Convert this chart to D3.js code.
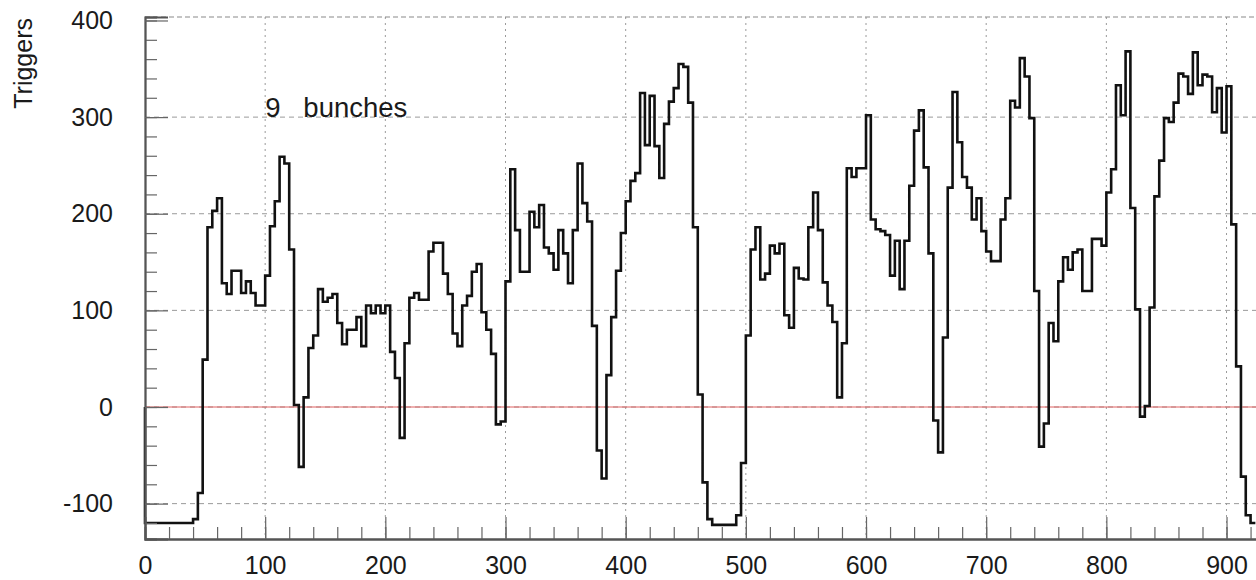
<!DOCTYPE html>
<html><head><meta charset="utf-8">
<script src="https://cdn.jsdelivr.net/npm/d3@7"></script>
<style>html,body{margin:0;padding:0;background:#fff;overflow:hidden}</style>
</head><body>
<svg id="chart" width="1256" height="580"></svg>
<script>
// ---- data: histogram of triggers, bins of 4 units starting at 0 ----
const binWidth = 4;
const bins000 = [-120,-120,-120,-120,-120,-120,-120,-120,-120,-120,-116,-89,49,186,203,216,128,117,141,141,118,130,118,105,105];
const bins100 = [136,187,213,259,252,163,2,-62,10,61,74,122,109,113,117,87,65,80,80,93,63,105,97,105,97];
const bins200 = [105,57,30,-32,66,113,118,111,111,161,170,170,138,117,76,63,105,115,140,148,98,80,55,-18,-15];
const bins300 = [130,246,183,140,140,202,186,209,165,159,142,183,159,128,183,252,211,192,84,-45,-74,33,93,141,180];
const bins400 = [213,234,242,325,271,322,270,237,293,316,330,355,352,315,186,13,-78,-116,-122,-122,-122,-122,-122,-112,-58];
const bins500 = [74,163,186,132,138,167,159,169,95,82,144,133,132,186,222,183,129,105,88,10,66,247,238,247,247];
const bins600 = [302,194,184,182,178,136,172,122,172,229,286,307,248,159,-14,-47,72,227,326,274,238,227,194,216,182];
const bins700 = [161,151,151,194,216,317,310,361,342,299,120,-41,-17,87,68,130,155,142,160,163,120,120,174,174,167];
const bins800 = [222,246,333,302,368,206,101,-10,1,103,218,255,299,295,315,345,342,324,367,333,344,342,305,330,284];
const bins900 = [332,189,42,-72,-112,-120];
const counts = [].concat(bins000,bins100,bins200,bins300,bins400,bins500,bins600,bins700,bins800,bins900);

const xTickValues = [0,100,200,300,400,500,600,700,800,900];
const yTickValues = [-100,0,100,200,300,400];
const yTitle = "Triggers";
const annotation = "9   bunches";

// ---- layout ----
const svg = d3.select("#chart");
const font = "'Liberation Sans', Arial, Helvetica, sans-serif";
const x = d3.scaleLinear().domain([0, 930]).range([145, 145 + 930 * 1.2017]);
const y = d3.scaleLinear().domain([-136.6, 403.6]).range([539, 17]);
const x0 = x.range()[0], x1 = x.range()[1];
const yTop = y.range()[1], yBot = y.range()[0];
const plain = d => String(d);

// grid lines
const gGrid = svg.append("g");
gGrid.selectAll("line.hg").data(yTickValues.filter(v => v < 400)).enter().append("line")
  .attr("x1", x0).attr("x2", x1).attr("y1", d => y(d)).attr("y2", d => y(d))
  .attr("stroke", "#9a9a9a").attr("stroke-width", 1).attr("stroke-dasharray", "5,4");
gGrid.selectAll("line.vg").data(xTickValues.filter(v => v > 0)).enter().append("line")
  .attr("x1", d => x(d)).attr("x2", d => x(d)).attr("y1", yTop).attr("y2", yBot)
  .attr("stroke", "#9a9a9a").attr("stroke-width", 1).attr("stroke-dasharray", "2,4");
// top frame (dashed)
svg.append("line").attr("x1", x0).attr("x2", x1).attr("y1", yTop).attr("y2", yTop)
  .attr("stroke", "#8a8a8a").attr("stroke-width", 1.2).attr("stroke-dasharray", "5,3");
// zero line
svg.append("line").attr("x1", x0).attr("x2", x1).attr("y1", y(0)).attr("y2", y(0))
  .attr("stroke", "#e06060").attr("stroke-width", 1);

// histogram
const pts = [[0, 0]].concat(counts.map((c, i) => [i * binWidth, c]));
pts.push([counts.length * binWidth, counts[counts.length - 1]]);
const line = d3.line().x(d => x(d[0])).y(d => y(d[1])).curve(d3.curveStepAfter);
svg.append("path").datum(pts).attr("d", line)
  .attr("fill", "none").attr("stroke", "#111").attr("stroke-width", 2.6)
  .attr("stroke-linejoin", "miter");

// axes
const xMinor = d3.range(0, 930, 20);
const yMinor = d3.range(-120, 404, 20);
const gxMinor = svg.append("g").attr("transform", `translate(0,${yBot})`)
  .call(d3.axisBottom(x).tickValues(xMinor).tickSize(-12).tickFormat(""));
const gx = svg.append("g").attr("transform", `translate(0,${yBot})`)
  .call(d3.axisBottom(x).tickValues(xTickValues).tickSize(-22).tickPadding(17).tickFormat(plain));
const gyMinor = svg.append("g").attr("transform", `translate(${x0},0)`)
  .call(d3.axisLeft(y).tickValues(yMinor).tickSize(-12).tickFormat(""));
const gy = svg.append("g").attr("transform", `translate(${x0},0)`)
  .call(d3.axisLeft(y).tickValues(yTickValues).tickSize(-23).tickPadding(32).tickFormat(plain));

[gxMinor, gx, gyMinor, gy].forEach(g => {
  g.selectAll(".tick line").attr("stroke", "#666").attr("stroke-width", 1.2);
  g.select(".domain").attr("stroke", "#555").attr("stroke-width", 1.8);
  g.selectAll("text").attr("font-family", font).attr("font-size", 25).attr("fill", "#1a1a1a");
});

// y title
svg.append("text").attr("transform", `translate(32,18) rotate(-90)`)
  .attr("text-anchor", "end").attr("font-family", font).attr("font-size", 25)
  .attr("fill", "#1a1a1a").text(yTitle);

// annotation
svg.append("text").attr("x", x(100)).attr("y", y(300))
  .attr("font-family", font).attr("font-size", 27.5).attr("fill", "#1a1a1a")
  .attr("xml:space", "preserve").style("white-space", "pre").text(annotation);
</script>
</body></html>
